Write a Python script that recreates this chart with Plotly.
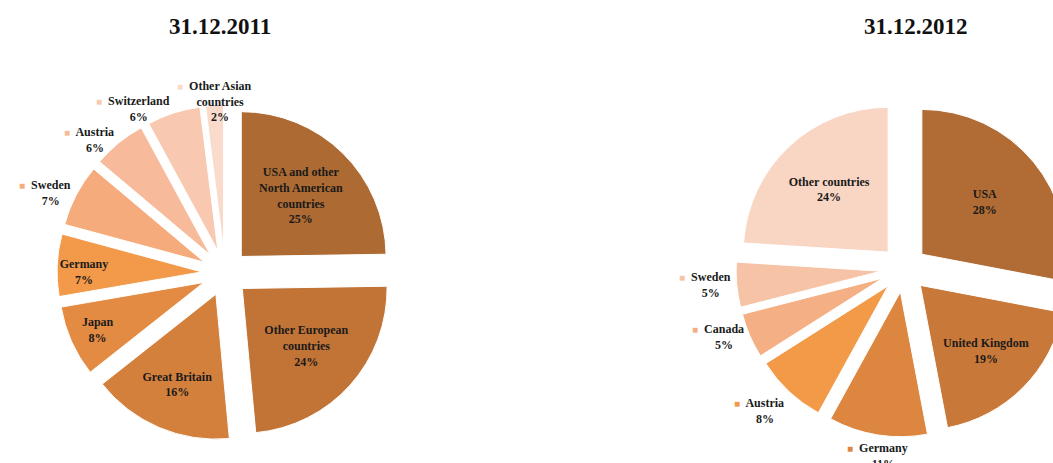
import math
import plotly.graph_objects as go

# 31.12.2011
labels_2011 = ["USA and other<br>North American<br>countries", "Other European<br>countries",
               "Great Britain", "Japan", "Germany", "Sweden", "Austria", "Switzerland",
               "Other Asian<br>countries"]
values_2011 = [25, 24, 16, 8, 7, 7, 6, 6, 2]
colors_2011 = ["#AD6A33", "#C27436", "#D3803D", "#E48B43", "#F29A4A",
               "#F5AB7B", "#F7BB9B", "#F8C9B0", "#FADBCB"]
outside_2011 = [False, False, False, False, False, True, True, True, True]

# 31.12.2012
labels_2012 = ["USA", "United Kingdom", "Germany", "Austria", "Canada", "Sweden",
               "Other countries"]
values_2012 = [28, 19, 11, 8, 5, 5, 24]
colors_2012 = ["#B06C34", "#C87839", "#DC863F", "#F39A48", "#F5AF85", "#F7C3A6", "#F9D5C3"]
outside_2012 = [False, False, True, True, True, True, False]

titles = ["31.12.2011", "31.12.2012"]

FONT = "Liberation Serif"
W, H = 1080, 480  # larger than the window on purpose: the 2012 pie runs off the edge
PULL = 0.16
LABEL_GAP = 4  # px between a pulled slice and its outside label

fig = go.Figure()


def add_pie(labels, values, colors, outside, dom_x, dom_y):
    fig.add_trace(go.Pie(
        labels=labels,
        values=values,
        text=[f"{lab}<br>{v}%" for lab, v in zip(labels, values)],
        texttemplate="%{text}",
        textposition=["none" if o else "inside" for o in outside],
        insidetextorientation="horizontal",
        sort=False,
        direction="clockwise",
        rotation=0,
        pull=PULL,
        marker=dict(colors=colors, line=dict(color="white", width=1)),
        textfont=dict(family=FONT, size=12, color="#1a1a1a", weight="bold"),
        domain=dict(x=dom_x, y=dom_y),
        hoverinfo="label+value",
        showlegend=False,
    ))

    # labels of the small slices sit outside, Excel style, with a colour key
    box = min((dom_x[1] - dom_x[0]) * W, (dom_y[1] - dom_y[0]) * H)
    r = box / 2 / (1 + PULL)
    d = r * (1 + PULL) + LABEL_GAP
    cx = (dom_x[0] + dom_x[1]) / 2 * W
    cy = (1 - (dom_y[0] + dom_y[1]) / 2) * H
    total = sum(values)
    cum = 0
    for lab, v, c, o in zip(labels, values, colors, outside):
        mid = (cum + v / 2) / total * 2 * math.pi
        cum += v
        if not o:
            continue
        sx, cy_ = math.sin(mid), math.cos(mid)
        px = cx + d * sx
        py = cy - d * cy_
        xanchor = "right" if sx < -0.2 else ("left" if sx > 0.2 else "center")
        yanchor = "top" if cy_ < -0.6 else "middle"
        key = f'<span style="color:{c};font-size:10px">■</span>  '
        pad = '<span style="color:rgba(0,0,0,0);font-size:10px">■</span>  '
        lines = lab.split("<br>") + [f"{v}%"]
        txt = key + lines[0] + "".join("<br>" + pad + ln for ln in lines[1:])
        fig.add_annotation(text=txt, x=px / W, y=1 - py / H, xref="paper", yref="paper",
                           showarrow=False, xanchor=xanchor, yanchor=yanchor,
                           font=dict(family=FONT, size=12, color="#1a1a1a", weight="bold"))


add_pie(labels_2011, values_2011, colors_2011, outside_2011,
        [0.05278, 0.36389], [0.08125, 0.78125])
add_pie(labels_2012, values_2012, colors_2012, outside_2012,
        [0.68148, 0.99259], [0.08958, 0.78958])

for t, x in zip(titles, [0.2037, 0.8481]):
    fig.add_annotation(text=t, x=x, y=0.944, xref="paper", yref="paper",
                       showarrow=False, xanchor="center", yanchor="middle",
                       font=dict(family=FONT, size=23, color="#111", weight="bold"))

fig.update_layout(
    width=W, height=H,
    margin=dict(l=0, r=0, t=0, b=0, autoexpand=False),
    paper_bgcolor="white",
    plot_bgcolor="white",
)

# no body margin / scrollbars, so the figure starts at the window corner
fig.write_html("out.html",
               config={"displayModeBar": False},
               post_script="document.body.style.margin='0';"
                           "document.body.style.overflow='hidden';")
